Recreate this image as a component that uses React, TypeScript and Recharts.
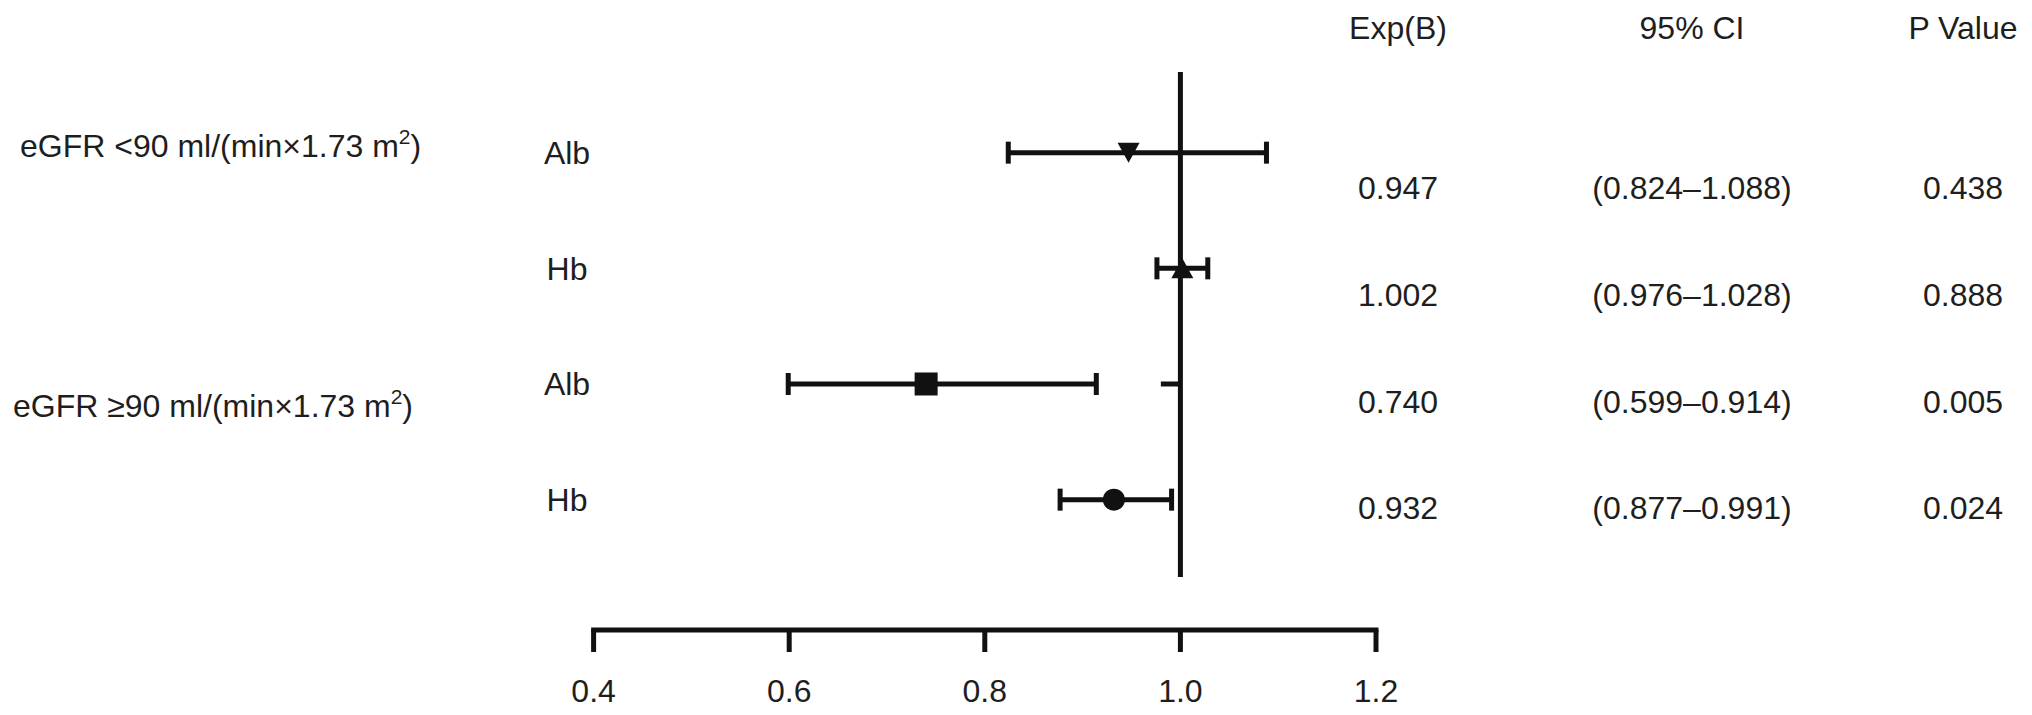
import React from 'react';
import { ScatterChart, Scatter, XAxis, YAxis, ErrorBar, ReferenceLine } from 'recharts';

// ---- data ----
const variables = ['Alb', 'Hb', 'Alb', 'Hb'];
const expB = [0.947, 1.002, 0.74, 0.932];
const ciLow = [0.824, 0.976, 0.599, 0.877];
const ciHigh = [1.088, 1.028, 0.914, 0.991];
const pValues = ['0.438', '0.888', '0.005', '0.024'];
const groupLabels = ['eGFR <90 ml/(min\u00d71.73 m', 'eGFR \u226590 ml/(min\u00d71.73 m'];
const headers = ['Exp(B)', '95% CI', 'P Value'];
const xTicks = [0.4, 0.6, 0.8, 1.0, 1.2];
const refValue = 1.0;
const stubRange = [0.98, 1.0];

const rows = expB.map((v, i) => ({
  row: i + 1,
  value: v,
  err: [v - ciLow[i], ciHigh[i] - v],
}));

// ---- layout/style ----
const FONT = '"Liberation Sans", Arial, Helvetica, sans-serif';
const INK = '#111';
const TXT = '#1e1e1e';
const FS = 32;
const markerShapes = ['triangleDown', 'triangleUp', 'square', 'circle'];
const yDomainMax = 5.127;
const refTop = 0.303;
const refBottom = 4.668;

const Marker = (props: any) => {
  const { cx, cy, payload } = props;
  if (cx == null || cy == null) return null;
  const kind = markerShapes[payload.row - 1];
  if (kind === 'triangleDown') {
    return <polygon points={`${cx - 11},${cy - 10} ${cx + 11},${cy - 10} ${cx},${cy + 10}`} fill={INK} />;
  }
  if (kind === 'triangleUp') {
    return <polygon points={`${cx - 11},${cy + 10} ${cx + 11},${cy + 10} ${cx},${cy - 10}`} fill={INK} />;
  }
  if (kind === 'square') {
    return <rect x={cx - 11.5} y={cy - 11.5} width={23} height={23} fill={INK} />;
  }
  return <circle cx={cx} cy={cy} r={11} fill={INK} />;
};

const YTick = (props: any) => {
  const { y, payload } = props;
  return (
    <text x={567} y={y + 11.5} textAnchor="middle" fontSize={FS} fontFamily={FONT} fill={TXT}>
      {variables[payload.value - 1]}
    </text>
  );
};

const XTick = (props: any) => {
  const { x, y, payload } = props;
  return (
    <text x={x} y={y + 50} textAnchor="middle" fontSize={FS} fontFamily={FONT} fill={TXT}>
      {Number(payload.value).toFixed(1)}
    </text>
  );
};

const colX = [1398, 1692, 1963];
const headerBaseline = 39;
const valueBaselines = [198.5, 305.5, 412.5, 518.5];
const groupPos = [
  { x: 20, y: 157 },
  { x: 13, y: 417 },
];

export default function App() {
  return (
    <div style={{ position: 'relative', width: 2032, height: 715, margin: '-8px 0 0 -8px', background: '#fff' }}>
      <ScatterChart
        width={2032}
        height={715}
        margin={{ top: 37, right: 656, bottom: 0, left: 493.6 }}
      >
        <XAxis
          type="number"
          dataKey="value"
          domain={[0.4, 1.2]}
          ticks={xTicks}
          allowDataOverflow
          height={85}
          tickSize={22}
          tickMargin={0}
          axisLine={{ stroke: INK, strokeWidth: 5, strokeLinecap: 'square' }}
          tickLine={{ stroke: INK, strokeWidth: 5 }}
          tick={<XTick />}
          interval={0}
        />
        <YAxis
          type="number"
          dataKey="row"
          domain={[0, yDomainMax]}
          reversed
          ticks={[1, 2, 3, 4]}
          width={100}
          axisLine={false}
          tickLine={false}
          tickSize={0}
          tick={<YTick />}
          interval={0}
          allowDataOverflow
        />
        <ReferenceLine
          segment={[{ x: refValue, y: refTop }, { x: refValue, y: refBottom }]}
          stroke={INK}
          strokeWidth={5}
        />
        <ReferenceLine
          segment={[{ x: stubRange[0], y: 3 }, { x: stubRange[1], y: 3 }]}
          stroke={INK}
          strokeWidth={5}
        />
        <Scatter data={rows} shape={<Marker />} isAnimationActive={false}>
          <ErrorBar dataKey="err" direction="x" width={11} stroke={INK} strokeWidth={5} />
        </Scatter>
      </ScatterChart>
      <svg
        width={2032}
        height={715}
        style={{ position: 'absolute', left: 0, top: 0, pointerEvents: 'none' }}
        fontFamily={FONT}
        fontSize={FS}
        fill={TXT}
      >
        {headers.map((h, i) => (
          <text key={h} x={colX[i]} y={headerBaseline} textAnchor="middle">{h}</text>
        ))}
        {expB.map((v, i) => (
          <g key={i}>
            <text x={colX[0]} y={valueBaselines[i]} textAnchor="middle">{v.toFixed(3)}</text>
            <text x={colX[1]} y={valueBaselines[i]} textAnchor="middle">
              {`(${ciLow[i].toFixed(3)}\u2013${ciHigh[i].toFixed(3)})`}
            </text>
            <text x={colX[2]} y={valueBaselines[i]} textAnchor="middle">{pValues[i]}</text>
          </g>
        ))}
        {groupLabels.map((g, i) => (
          <text key={i} x={groupPos[i].x} y={groupPos[i].y}>
            {g}
            <tspan fontSize={21} dy={-13}>2</tspan>
            <tspan fontSize={FS} dy={13}>)</tspan>
          </text>
        ))}
      </svg>
    </div>
  );
}
